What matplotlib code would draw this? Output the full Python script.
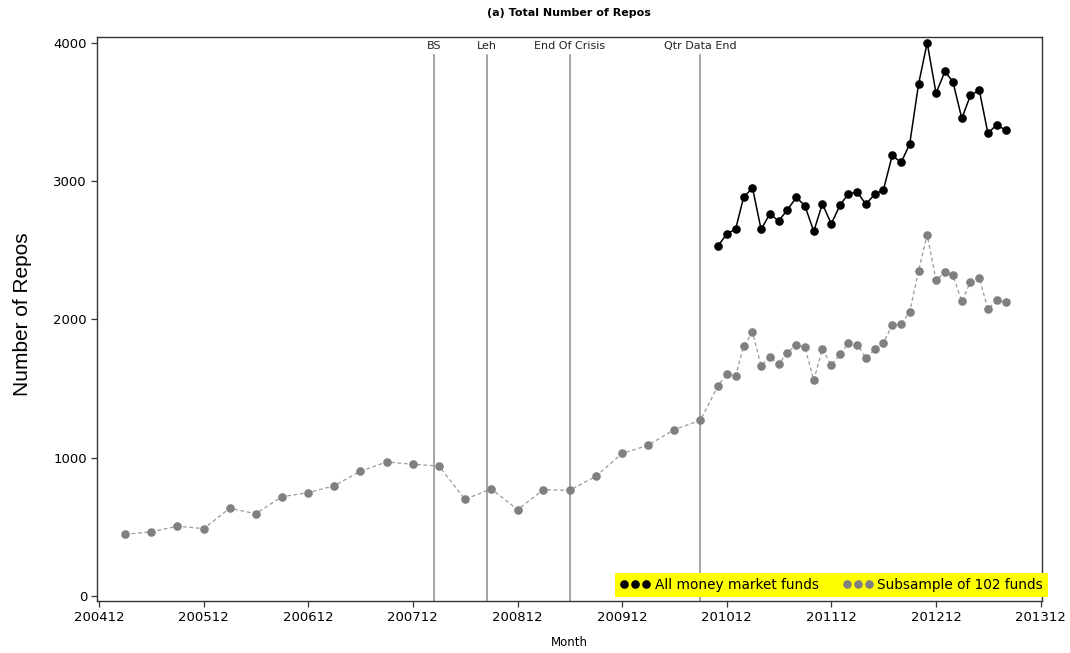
import matplotlib
matplotlib.use("Agg")
import matplotlib.pyplot as plt
from matplotlib.lines import Line2D
import pandas as pd

# Quarter-end months (pre-2010Q4) and monthly observations afterwards
quarterly_months = [p.strftime("%Y%m") for p in pd.period_range("2005-03", "2010-09", freq="3M")]
monthly_months = [p.strftime("%Y%m") for p in pd.period_range("2010-11", "2013-08", freq="M")]

subsample_quarterly = [446, 463, 504, 487, 634, 595, 718, 747, 797, 901, 969, 952,
                       940, 699, 774, 624, 769, 764, 865, 1031, 1089, 1202, 1270]
subsample_monthly = [1518, 1603, 1590, 1807, 1906, 1665, 1730, 1677, 1759, 1815, 1798, 1561,
                     1786, 1670, 1747, 1827, 1817, 1721, 1783, 1829, 1961, 1964, 2055, 2352,
                     2612, 2284, 2340, 2318, 2130, 2270, 2301, 2073, 2138, 2125]
all_funds_monthly = [2530, 2617, 2653, 2882, 2952, 2651, 2764, 2711, 2793, 2882, 2822, 2636,
                     2836, 2691, 2827, 2908, 2921, 2832, 2906, 2935, 3186, 3135, 3268, 3703,
                     4000, 3636, 3793, 3718, 3453, 3620, 3658, 3347, 3407, 3369]

event_labels = ["BS", "Leh", "End Of Crisis", "Qtr Data End"]
event_dates = ["2008-03-14", "2008-09-15", "2009-06-30", "2010-09-30"]

tick_labels = [str(y) + "12" for y in range(2004, 2014)]
y_ticks = [0, 1000, 2000, 3000, 4000]


def month_end(yyyymm):
    return pd.Period(yyyymm, freq="M").to_timestamp(how="end").normalize()


sub_x = [month_end(m) for m in quarterly_months + monthly_months]
sub_y = subsample_quarterly + subsample_monthly
all_x = [month_end(m) for m in monthly_months]

plt.rcParams["font.family"] = ["DejaVu Sans"]

W, H = 1070, 653
fig = plt.figure(figsize=(W / 100, H / 100), dpi=100)
ax = fig.add_axes([0.0904, 0.0789, 0.8837, 0.8644])

grey = "#808080"
ax.plot(sub_x, sub_y, color="#9a9a9a", lw=0.9, ls=(0, (3, 2.2)), zorder=2)
ax.plot(sub_x, sub_y, ls="none", marker="o", ms=6.2, mew=0, color=grey, zorder=3)
ax.plot(all_x, all_funds_monthly, color="black", lw=1.1, marker="o", ms=6.2, mew=0,
        zorder=4)

for lab, d in zip(event_labels, event_dates):
    xd = pd.Timestamp(d)
    ax.axvline(xd, ymin=0, ymax=0.968, color="#8c8c8c", lw=1.1, zorder=1)
    ax.text(xd, 3975, lab, ha="center", va="center", fontsize=8, color="#222222")

ticks = [month_end(t) for t in tick_labels]
ax.set_xticks(ticks)
ax.set_xticklabels(tick_labels, fontsize=9.5)
ax.set_xlim(pd.Timestamp("2004-12-22"), pd.Timestamp("2014-01-06"))
ax.set_ylim(-40, 4042)
ax.set_yticks(y_ticks)
ax.set_yticklabels([str(v) for v in y_ticks], fontsize=9.5)
ax.tick_params(direction="out", length=4, width=0.9, color="#333333", pad=3)

for s in ax.spines.values():
    s.set_color("#333333")
    s.set_linewidth(1.0)

# Axis titles and chart title placed in figure pixels
fig.text(569 / W, 1 - 643 / H, "Month", fontsize=8.5, ha="center", va="center")
fig.text(23 / W, 1 - 314 / H, "Number of Repos", fontsize=15, rotation=90,
         family=["Liberation Sans", "DejaVu Sans"], ha="center", va="center")
fig.text(569 / W, 1 - 13 / H, "(a) Total Number of Repos", fontsize=8,
         fontweight="bold", ha="center", va="center")

handles = [
    Line2D([], [], color="black", marker="o", ls="none", ms=6.2, mew=0),
    Line2D([], [], color=grey, marker="o", ls="none", ms=6.2, mew=0),
]
leg = ax.legend(handles, ["All money market funds", "Subsample of 102 funds"],
                ncol=2, numpoints=3, fontsize=9.8, handlelength=2.25, handletextpad=0.3,
                columnspacing=1.75, loc="lower right", bbox_to_anchor=(1.0057, 0.0085),
                borderaxespad=0, borderpad=0.35, frameon=True, fancybox=False,
                facecolor="#ffff00", edgecolor="none", framealpha=1)
leg.set_zorder(5)

fig.savefig("out.png", dpi=100)
